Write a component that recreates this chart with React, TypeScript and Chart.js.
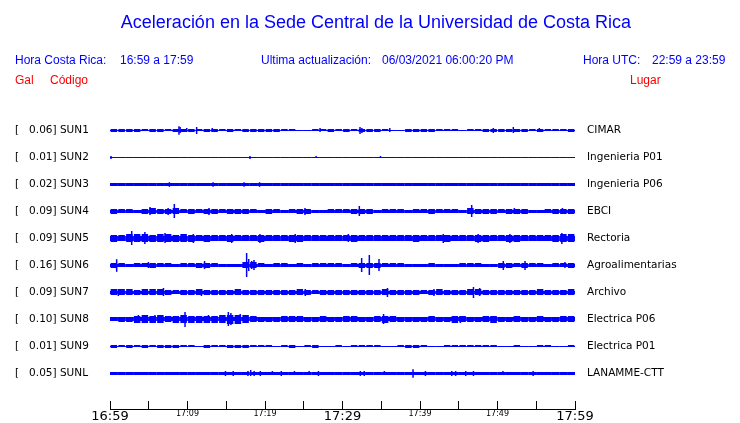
import React, { useEffect, useRef } from "react";
import { Chart, registerables } from "chart.js";

Chart.register(...registerables);

// ---- Stations (top to bottom) ----
const stationCodes = ["SUN1", "SUN2", "SUN3", "SUN4", "SUN5", "SUN6", "SUN7", "SUN8", "SUN9", "SUNL"];
const peakGal = [0.06, 0.01, 0.02, 0.09, 0.09, 0.16, 0.09, 0.1, 0.01, 0.05];
const siteNames = [
  "CIMAR",
  "Ingenieria P01",
  "Ingenieria P06",
  "EBCI",
  "Rectoria",
  "Agroalimentarias",
  "Archivo",
  "Electrica P06",
  "Electrica P01",
  "LANAMME-CTT",
];

// ---- Time axis (minutes after 16:59) ----
const tickMinutes = [0, 5, 10, 15, 20, 25, 30, 35, 40, 45, 50, 55, 60];
const tickLabels = ["16:59", "", "17:09", "", "17:19", "", "17:29", "", "17:39", "", "17:49", "", "17:59"];
const majorTickMinutes = [0, 30, 60];

// ---- Background noise level per station (half-amplitude, 27 units = one trace spacing) ----
const baseLevel = [0.5, 0.5, 1.5, 1.5, 2.5, 1.5, 1.5, 2, 0.5, 1.5];

// ---- Envelope half-amplitude per minute (27 units = one trace spacing) ----
const envSUN1 = [1.5, 1.5, 1.5, 1.5, 1, 1.5, 1.5, 1, 1.5, 1.5, 1.5, 1, 1.5, 1.5, 1, 1.5, 1, 1.5, 1.5, 1.5, 1.5, 1.5, 1, 1, 0.5, 0.5, 1, 1, 1.5, 1, 1.5, 1, 1.5, 1.5, 1.5, 1, 0.5, 0.5, 1.5, 1.5, 1.5, 1.5, 1, 1, 1, 0.5, 1, 1, 1.5, 1.5, 1.5, 1.5, 1.5, 1.5, 1, 1.5, 1, 1, 1, 1.5];
const envSUN2 = [0.5, 0.5, 0.5, 0.5, 0.5, 0.5, 0.5, 0.5, 0.5, 0.5, 0.5, 0.5, 0.5, 0.5, 0.5, 0.5, 0.5, 0.5, 0.5, 0.5, 0.5, 0.5, 0.5, 0.5, 0.5, 0.5, 0.5, 0.5, 0.5, 0.5, 0.5, 0.5, 0.5, 0.5, 0.5, 0.5, 0.5, 0.5, 0.5, 0.5, 0.5, 0.5, 0.5, 0.5, 0.5, 0.5, 0.5, 0.5, 0.5, 0.5, 0.5, 0.5, 0.5, 0.5, 0.5, 0.5, 0.5, 0.5, 0.5, 0.5];
const envSUN3 = [1.5, 1.5, 1.5, 1.5, 1.5, 1.5, 1.5, 1.5, 1.5, 1.5, 1.5, 1.5, 1.5, 1.5, 1.5, 1.5, 1.5, 1.5, 1.5, 1.5, 1.5, 1.5, 1.5, 1.5, 1.5, 1.5, 1.5, 1.5, 1.5, 1.5, 1.5, 1.5, 1.5, 1.5, 1.5, 1.5, 1.5, 1.5, 1.5, 1.5, 1.5, 1.5, 1.5, 1.5, 1.5, 1.5, 1.5, 1.5, 1.5, 1.5, 1.5, 1.5, 1.5, 1.5, 1.5, 1.5, 1.5, 1.5, 1.5, 1.5];
const envSUN4 = [2.5, 2, 2, 1.5, 2.5, 3, 2.5, 2.5, 3, 2, 2.5, 2, 2.5, 2.5, 2, 2.5, 2.5, 2.5, 2, 1.5, 2.5, 2, 1.5, 2, 2.5, 2.5, 1.5, 1.5, 2, 2, 2, 2.5, 2.5, 2.5, 1.5, 2, 2, 2, 1.5, 2, 2, 2.5, 2, 2, 2, 1.5, 3, 2.5, 2.5, 2.5, 2, 2.5, 2.5, 2.5, 1.5, 1.5, 2, 2.5, 2.5, 2.5];
const envSUN5 = [3.5, 3, 4, 4, 4, 3.5, 4, 4, 3.5, 4, 3.5, 3, 3.5, 3, 3, 3.5, 3, 3, 3, 3.5, 3, 3, 3, 3.5, 3.5, 3, 3, 3, 3, 3, 3, 3.5, 3, 3, 3, 3, 3, 3, 3, 3.5, 3, 3, 3, 3.5, 3, 3, 3, 3.5, 3.5, 3, 3, 3.5, 3.5, 3, 3, 3, 3, 3.5, 4, 4];
const envSUN6 = [2.5, 2, 1.5, 2, 2, 2.5, 2, 2, 1.5, 2, 2, 2.5, 2.5, 2, 1.5, 1.5, 1.5, 3, 3, 2, 1.5, 2, 2, 1.5, 2, 1.5, 2, 2, 2, 2, 1.5, 2, 2.5, 2.5, 2.5, 2, 2, 2, 1.5, 1.5, 1.5, 2, 1.5, 1.5, 1.5, 2, 2, 2, 1.5, 1.5, 2.5, 2.5, 2, 2.5, 2, 2, 1.5, 2, 2, 2.5];
const envSUN7 = [3, 3, 3, 2.5, 3, 3, 3, 2.5, 2, 2.5, 2.5, 3, 2.5, 2.5, 2.5, 2.5, 3, 2.5, 2.5, 2.5, 2.5, 2.5, 2.5, 2.5, 3, 2.5, 2, 2.5, 2.5, 2.5, 2.5, 2.5, 2.5, 2.5, 2.5, 3, 2.5, 2.5, 2.5, 2.5, 2, 2.5, 3, 2.5, 2.5, 2.5, 3, 3, 2.5, 2.5, 2.5, 2.5, 2.5, 2.5, 2.5, 3, 2.5, 2.5, 2.5, 3];
const envSUN8 = [2, 2.5, 2.5, 3.5, 4, 3.5, 4, 3, 3.5, 4, 3.5, 3.5, 3.5, 3.5, 4, 4.5, 4.5, 4, 3, 2.5, 2.5, 2.5, 3, 3, 3, 2.5, 2.5, 3, 2.5, 2.5, 3, 3, 2.5, 2.5, 3, 3.5, 3, 2.5, 2.5, 2.5, 2.5, 3, 2.5, 2.5, 3.5, 3, 2.5, 2.5, 3, 3.5, 2.5, 2.5, 3, 2.5, 2.5, 3, 2.5, 2.5, 3, 3];
const envSUN9 = [1.5, 1, 1.5, 1, 1.5, 1, 1.5, 1.5, 1.5, 1, 1, 0.5, 1.5, 1, 1, 1.5, 1.5, 1.5, 1, 1, 1, 0.5, 1, 1.5, 0.5, 1, 1.5, 0.5, 0.5, 1, 0.5, 1, 1, 1, 1, 0.5, 0.5, 1, 1.5, 1.5, 1, 0.5, 0.5, 1, 1, 1, 1, 1, 1, 1, 0.5, 0.5, 1, 0.5, 0.5, 1, 1, 0.5, 0.5, 1];
const envSUNL = [1.5, 1.5, 1.5, 1.5, 1.5, 1.5, 1.5, 1.5, 1.5, 1.5, 1.5, 1.5, 1.5, 1.5, 1.5, 1.5, 1.5, 1.5, 1.5, 1.5, 1.5, 1.5, 1.5, 1.5, 1.5, 1.5, 1.5, 1.5, 1.5, 1.5, 1.5, 1.5, 1.5, 1.5, 1.5, 1.5, 1.5, 1.5, 1.5, 1.5, 1.5, 1.5, 1.5, 1.5, 1.5, 1.5, 1.5, 1.5, 1.5, 1.5, 1.5, 1.5, 1.5, 1.5, 1.5, 1.5, 1.5, 1.5, 1.5, 1.5];

// ---- Isolated peaks: [minute, half-amplitude] ----
const spkSUN1 = [[8.9, 4.3], [9.05, 3], [9.9, 2], [11.18, 3.5], [13.2, 2], [18.3, 1.5], [27.1, 2], [32.26, 3.5], [32.5, 2.5], [36.1, 2], [49.46, 2.5], [52.04, 3], [55.4, 2]];
const spkSUN2 = [[0.13, 1.5], [18.06, 1.5], [26.6, 1], [34.9, 1]];
const spkSUN3 = [[7.66, 2.3], [13.3, 2.3], [17.3, 2.3], [19.3, 2.3]];
const spkSUN4 = [[5.16, 4], [7.5, 3.5], [8.3, 7], [12.77, 3.5], [25.16, 3.5], [32.17, 5], [46.67, 6], [52.17, 3], [58.37, 3]];
const spkSUN5 = [[2.8, 7], [4.5, 6], [7.1, 5], [10.75, 4.5], [15.7, 4.5], [19.35, 4.5], [23.9, 4.5], [30.75, 4], [43, 4.5], [47.5, 4.5], [51.6, 4.5], [58.3, 5.5]];
const spkSUN6 = [[0.86, 6.3], [4.95, 3], [12.2, 4], [17.63, 12], [17.9, 6], [18.28, 4], [18.58, 5], [32.47, 7], [33.46, 10], [34.71, 6], [50.75, 4.5], [53.55, 4.5], [58.7, 3]];
const spkSUN7 = [[1.07, 3.5], [6.9, 4], [11.8, 3.5], [25.2, 3.5], [35.8, 4.5], [41.8, 3.5], [46.9, 5.5], [47.7, 4]];
const spkSUN8 = [[3.66, 4], [5.8, 4], [9.68, 7.5], [12.7, 4], [15.27, 7], [15.6, 6], [16.8, 5], [35.3, 5], [45.2, 3.5], [49.2, 3.5]];
const spkSUN9: number[][] = [];
const spkSUNL = [[14.9, 2.5], [15.9, 2.5], [17.8, 2.5], [18.15, 3], [18.6, 2.5], [19.4, 2.5], [20.95, 2], [22.1, 2.5], [23.8, 2], [25.7, 2], [26.9, 2.5], [32.3, 2.5], [32.8, 2.5], [35.4, 2], [39.1, 4.3], [40.7, 2.5], [44.1, 2.5], [44.6, 2.5], [45.9, 2.5], [46.9, 2.5], [50.7, 2], [54.6, 2.5]];

const envelopes = [envSUN1, envSUN2, envSUN3, envSUN4, envSUN5, envSUN6, envSUN7, envSUN8, envSUN9, envSUNL];
const spikeLists = [spkSUN1, spkSUN2, spkSUN3, spkSUN4, spkSUN5, spkSUN6, spkSUN7, spkSUN8, spkSUN9, spkSUNL];
const AMP_UNITS_PER_TRACE = 27;

const TRACE_BLUE = "#0000ff";
const TEXT_BLUE = "#0000ff";
const TEXT_RED = "#ff0000";

// floating range around a trace row; even heights are nudged half a unit so edges fall on pixel rows
const band = (row: number, a: number): [number, number] => {
  const shift = Number.isInteger(a) ? 0.5 : 0;
  return [row + (-a + shift) / AMP_UNITS_PER_TRACE, row + (a + shift) / AMP_UNITS_PER_TRACE];
};

export default function App() {
  const canvasRef = useRef<HTMLCanvasElement | null>(null);

  useEffect(() => {
    const canvas = canvasRef.current;
    if (!canvas) return;
    const n = stationCodes.length;
    const yMax = n + 0.5;
    const yMin = yMax - 292 / 27;

    const common = { backgroundColor: TRACE_BLUE, borderWidth: 0, grouped: false, inflateAmount: 0 };
    const datasets: any[] = [];
    envelopes.forEach((env, i) => {
      const r = n - i;
      datasets.push({
        ...common,
        label: stationCodes[i] + " base",
        data: env.map((_, m) => ({ x: m + 0.5, y: band(r, baseLevel[i]) })),
        barThickness: 8,
      });
      datasets.push({
        ...common,
        label: stationCodes[i],
        data: env.map((a, m) => ({ x: m + 0.5, y: band(r, Math.max(a, baseLevel[i])) })),
        barThickness: 6.5,
      });
      datasets.push({
        ...common,
        label: stationCodes[i] + " peaks",
        data: spikeLists[i].map(([m, a]) => ({ x: m, y: band(r, a) })),
        barThickness: 1.5,
      });
    });

    const rowTicks = (s: any) => {
      s.ticks = stationCodes.map((_, i) => ({ value: n - i }));
    };

    const chart = new Chart(canvas, {
      type: "bar",
      data: { datasets },
      options: {
        animation: false,
        responsive: false,
        events: [],
        layout: { padding: { top: 117, left: 15, right: 0, bottom: 0 } },
        plugins: {
          legend: { display: false },
          tooltip: { enabled: false },
          title: { display: false },
        },
        scales: {
          x: {
            type: "linear",
            position: "bottom",
            min: 0,
            max: 60,
            offset: false,
            afterBuildTicks: (s: any) => {
              s.ticks = tickMinutes.map((v) => ({ value: v }));
            },
            afterFit: (s: any) => {
              s.height = 14;
              s.paddingLeft = 0;
              s.paddingRight = 0;
            },
            grid: {
              display: true,
              offset: false,
              drawOnChartArea: false,
              drawTicks: true,
              tickLength: -8,
              color: "#000000",
              lineWidth: 1,
            },
            border: { display: true, color: "#000000", width: 1 },
            ticks: {
              autoSkip: false,
              maxRotation: 0,
              minRotation: 0,
              padding: 8,
              color: "#000000",
              callback: (v: any) => {
                const idx = tickMinutes.indexOf(Number(v));
                return idx >= 0 ? tickLabels[idx] : "";
              },
              font: (ctx: any) => ({
                family: "'DejaVu Sans'",
                size: ctx.tick && majorTickMinutes.includes(ctx.tick.value) ? 13 : 8,
              }),
            },
          },
          y: {
            type: "linear",
            position: "left",
            min: yMin,
            max: yMax,
            afterBuildTicks: rowTicks,
            afterFit: (s: any) => {
              s.width = 95;
              s.paddingTop = 0;
              s.paddingBottom = 0;
            },
            grid: { display: false },
            border: { display: false },
            ticks: {
              crossAlign: "far",
              padding: 0,
              color: "#000000",
              font: { family: "'DejaVu Sans'", size: 10.5 },
              callback: (v: any) => {
                const i = n - Number(v);
                return `[   ${peakGal[i].toFixed(2)}] ${stationCodes[i]}`;
              },
            },
          },
          yRight: {
            type: "linear",
            position: "right",
            min: yMin,
            max: yMax,
            afterBuildTicks: rowTicks,
            afterFit: (s: any) => {
              s.width = 165;
              s.paddingTop = 0;
              s.paddingBottom = 0;
            },
            grid: { display: false, drawTicks: false },
            border: { display: false },
            ticks: {
              crossAlign: "near",
              padding: 12,
              color: "#000000",
              font: { family: "'DejaVu Sans'", size: 10.5 },
              callback: (v: any) => siteNames[n - Number(v)],
            },
          },
        },
      },
    } as any);

    return () => chart.destroy();
  }, []);

  const base: React.CSSProperties = {
    position: "absolute",
    fontFamily: "'Liberation Sans', Arial, sans-serif",
    whiteSpace: "nowrap",
    margin: 0,
  };
  const small = (left: number, top: number, color: string): React.CSSProperties => ({
    ...base,
    left,
    top,
    fontSize: 12,
    lineHeight: "16px",
    color,
  });

  return (
    <div style={{ position: "absolute", left: 0, top: 0, width: 740, height: 423, background: "#ffffff", overflow: "hidden" }}>
      <canvas ref={canvasRef} width={740} height={423} style={{ position: "absolute", left: 0, top: 0, width: 740, height: 423 }} />
      <div style={{ ...base, left: 6, top: 11, width: 740, textAlign: "center", fontSize: 18, lineHeight: "22px", color: TEXT_BLUE }}>
        Aceleración en la Sede Central de la Universidad de Costa Rica
      </div>
      <div style={small(15, 52, TEXT_BLUE)}>Hora Costa Rica:</div>
      <div style={small(120, 52, TEXT_BLUE)}>16:59 a 17:59</div>
      <div style={small(261, 52, TEXT_BLUE)}>Ultima actualización:</div>
      <div style={small(382, 52, TEXT_BLUE)}>06/03/2021 06:00:20 PM</div>
      <div style={small(583, 52, TEXT_BLUE)}>Hora UTC:</div>
      <div style={small(652, 52, TEXT_BLUE)}>22:59 a 23:59</div>
      <div style={small(15, 72, TEXT_RED)}>Gal</div>
      <div style={small(50, 72, TEXT_RED)}>Código</div>
      <div style={small(630, 72, TEXT_RED)}>Lugar</div>
    </div>
  );
}
